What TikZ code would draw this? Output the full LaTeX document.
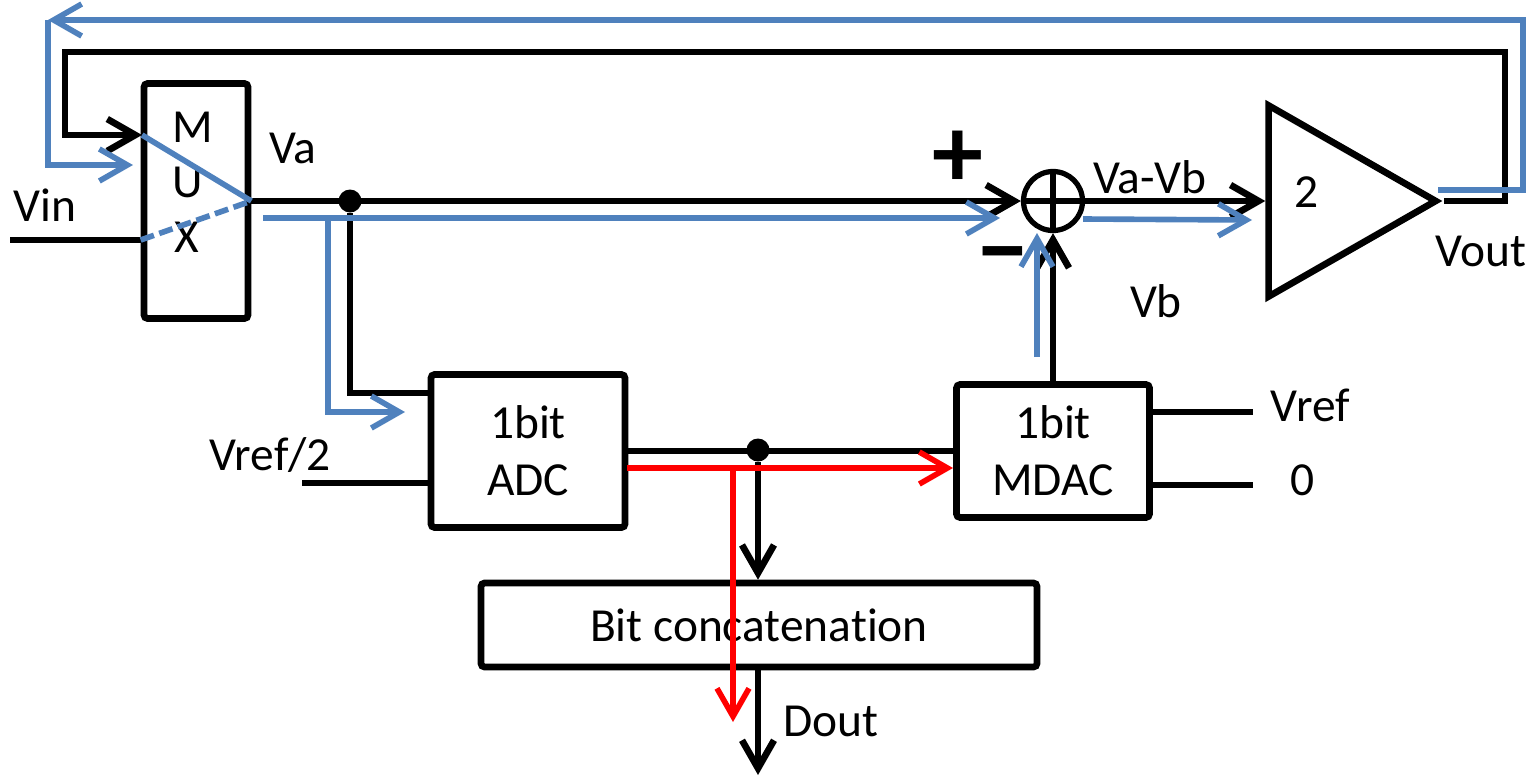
\documentclass[tikz,border=0pt]{standalone}
\usepackage{fontspec}
\setmainfont{Carlito}[Ligatures=NoCommon]
\usepackage{tikz}
\usetikzlibrary{arrows.meta,shapes.geometric}

\definecolor{pathblue}{RGB}{79,129,189}

\begin{document}
\begin{tikzpicture}[
    x=1cm, y=1cm,
    >={Straight Barb[length=2.8mm,width=3.2mm]},
    block/.style={
      draw,
      line width=1.9pt,
      rounded corners=1pt,
      inner sep=0pt,
      align=center,
      font=\fontsize{13.5}{16.2}\selectfont
    },
    wire/.style={line width=1.9pt},
    bluepath/.style={line width=1.6pt, draw=pathblue},
    redpath/.style={line width=1.6pt, draw=red},
    lbl/.style={inner sep=0pt, font=\fontsize{13.5}{15}\selectfont},
    sign/.style={inner sep=0pt, font=\fontsize{29}{29}\selectfont\bfseries},
    dot/.style={circle, fill, inner sep=0pt, minimum size=2.3mm}
  ]
    \useasboundingbox (0,0) rectangle (15.36,7.81);

    % blocks
    \node[block, minimum width=1.04cm, minimum height=2.35cm] (mux) at (1.96,5.80) {};
    \node[block, minimum width=1.94cm, minimum height=1.53cm] (adc) at (5.28,3.30) {1bit\\ADC};
    \node[block, minimum width=1.93cm, minimum height=1.33cm] (mdac) at (10.53,3.30) {1bit\\MDAC};
    \node[block, minimum width=5.56cm, minimum height=0.84cm] (concat) at (7.59,1.56) {Bit concatenation};
    \node[circle, draw, line width=1.5pt, inner sep=0pt, minimum size=0.59cm] (sum) at (10.53,5.80) {};
    \node[isosceles triangle, isosceles triangle stretches, draw, line width=1.9pt,
          inner sep=0pt, minimum width=1.91cm, minimum height=1.67cm] (amp) at (13.24,5.80) {};
    \draw[line width=1.5pt] (sum.north) -- (sum.south) (sum.west) -- (sum.east);

    % labels
    \node[lbl] (mlet) at (1.93,6.54) {M};
    \node[lbl] (ulet) at (1.88,5.99) {U};
    \node[lbl] (xlet) at (1.87,5.44) {X};
    \node[lbl] (vin) at (0.45,5.76) {Vin};
    \node[lbl] (va) at (2.93,6.33) {Va};
    \node[lbl] (vavb) at (11.50,6.04) {Va-Vb};
    \node[lbl] (vb) at (11.56,4.80) {Vb};
    \node[lbl] (gain) at (13.07,5.89) {2};
    \node[lbl] (vout) at (14.81,5.30) {Vout};
    \node[lbl] (vhalflbl) at (2.70,3.26) {Vref/2};
    \node[lbl] (vreflbl) at (13.10,3.76) {Vref};
    \node[lbl] (zerolbl) at (13.03,3.01) {0};
    \node[lbl] (dout) at (8.31,0.60) {Dout};
    \node[sign] (plus) at (9.58,6.22) {+};
    \node[sign] (minus) at (10.03,5.16) {−};

    % named ends
    \coordinate (vinstart) at (0.10,5.41);
    \coordinate (muxtop) at (1.42,6.46);
    \coordinate (fbright) at (15.05,7.29);
    \coordinate (fbleft) at (0.65,7.29);
    \coordinate (adcin) at (4.30,3.88);
    \coordinate (vhalf) at (3.02,2.98);
    \coordinate (vrefend) at (12.53,3.69);
    \coordinate (zeroend) at (12.53,2.96);
    \coordinate (doutend) at (7.58,0.06);
    \node[dot] (vadot) at (3.50,5.80) {};
    \node[dot] (bitdot) at (7.58,3.31) {};

    % black signal path
    \draw[wire] (vinstart) -- (vinstart -| mux.west);
    \draw[wire,->] (mux.east) -- (sum.west);
    \draw[wire] (vadot) |- (adcin);
    \draw[wire] (vhalf) -- (vhalf -| adc.west);
    \draw[wire] (adc.east) -- (mdac.west);
    \draw[wire,->] (bitdot) -- (bitdot |- concat.north);
    \draw[wire,->] (concat.south -| doutend) -- (doutend);
    \draw[wire] (vrefend -| mdac.east) -- (vrefend);
    \draw[wire] (zeroend -| mdac.east) -- (zeroend);
    \draw[wire,->] (mdac.north) -- (sum.south);
    \draw[wire,->] (sum.east) -- (amp.west);
    \draw[wire,->] (amp.apex) -| (fbright) -- (fbleft) |- (muxtop);

    % blue path (analog residue)
    \coordinate (bfbstart) at (14.38,5.91);
    \coordinate (bfbright) at (15.23,7.61);
    \coordinate (bfbleft) at (0.48,7.61);
    \coordinate (bmuxin) at (1.33,6.16);
    \coordinate (bvastart) at (2.63,5.63);
    \coordinate (bsplit) at (3.28,5.63);
    \coordinate (bsumin) at (10.00,5.63);
    \coordinate (badcin) at (4.05,3.69);
    \coordinate (bvbstart) at (10.37,4.24);
    \coordinate (bvbend) at (10.37,5.48);
    \coordinate (bdiffstart) at (10.83,5.62);
    \coordinate (bampin) at (12.52,5.61);
    \draw[bluepath] (muxtop) -- (mux.east);
    \draw[bluepath, dash pattern=on 4pt off 1.6pt] (vinstart -| mux.west) -- (mux.east);
    \draw[bluepath,->] (bfbstart) -| (bfbright) -- (bfbleft);
    \draw[bluepath,->] (bfbleft) |- (bmuxin);
    \draw[bluepath,->] (bvastart) -- (bsumin);
    \draw[bluepath,->] (bsplit) |- (badcin);
    \draw[bluepath,->] (bvbstart) -- (bvbend);
    \draw[bluepath,->] (bdiffstart) -- (bampin);

    % red path (digital bit)
    \coordinate (rstart) at (6.27,3.13);
    \coordinate (rsplit) at (7.33,3.13);
    \coordinate (rmdac) at (9.53,3.13);
    \coordinate (rdout) at (7.33,0.59);
    \draw[redpath,->] (rstart) -- (rmdac);
    \draw[redpath,->] (rsplit) -- (rdout);
  \end{tikzpicture}
\end{document}
